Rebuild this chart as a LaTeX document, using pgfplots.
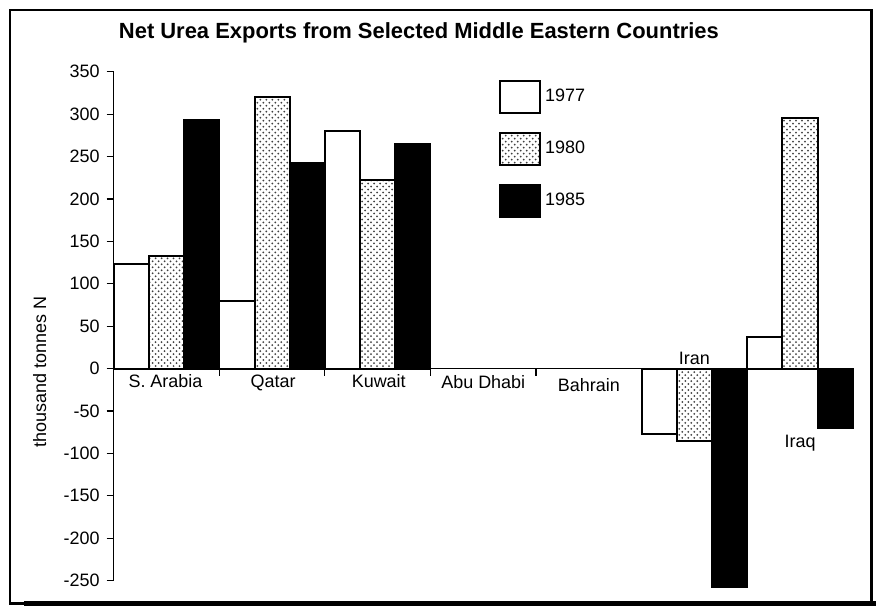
\documentclass[border=0pt]{standalone}
\usepackage{fontspec}
\setmainfont{Liberation Sans}
\usepackage{graphicx}
\usepackage{pgfplots}
\pgfplotsset{compat=1.18}
\usetikzlibrary{patterns}
\pgfplotsset{boxlegend/.style={legend image code/.code={\draw[##1] (0pt,-8pt) rectangle (20pt,8pt);}}}
\begin{document}
\begin{tikzpicture}
\begin{axis}[
  scale only axis, width=370.5pt, height=255pt,
  xmin=0, xmax=7, ymin=-250, ymax=350,
  axis x line=middle, axis y line=left,
  axis line style={-, line width=0.6pt},
  xtick={1,2,3,4,5,6}, xticklabels={},
  ytick={-250,-200,...,350},
  yticklabels={-250,-200,-150,-100,-50,0,50,100,150,200,250,300,350},
  tick align=outside, major tick length=3.5pt,
  tick style={black, line width=0.6pt},
  font=\fontsize{9}{10}\selectfont,
  ylabel={thousand tonnes N},
  every axis y label/.style={at={(axis description cs:-0.1,0.41)}, rotate=90, anchor=center, font=\fontsize{9}{10}\selectfont},
  legend style={at={(axis description cs:0.521,0.985)}, anchor=north west, draw=none, fill=none, row sep=9pt, font=\fontsize{9}{10}\selectfont, inner sep=0pt},
  legend cell align=left,
  clip=false,
]
\addplot[ybar, bar width=0.3333, bar shift=0pt, fill=white, draw=black, line width=1pt, boxlegend]
  coordinates {(0.1667,123) (1.1667,80) (2.1667,280) (5.1667,-77) (6.1667,37)};
\addlegendentry{1977}
\addplot[ybar, bar width=0.3333, bar shift=0pt, fill=white, pattern=crosshatch dots, pattern color=black!75, draw=black, line width=1pt, boxlegend]
  coordinates {(0.5,133) (1.5,320) (2.5,222) (5.5,-86) (6.5,295)};
\addlegendentry{1980}
\addplot[ybar, bar width=0.3333, bar shift=0pt, fill=black, draw=black, line width=1pt, boxlegend]
  coordinates {(0.8333,293) (1.8333,242) (2.8333,265) (5.8333,-258) (6.8333,-70)};
\addlegendentry{1985}
\node[font=\fontsize{9}{10}\selectfont, anchor=base] at (axis cs:0.49,-22) {S. Arabia};
\node[font=\fontsize{9}{10}\selectfont, anchor=base] at (axis cs:1.51,-22) {Qatar};
\node[font=\fontsize{9}{10}\selectfont, anchor=base] at (axis cs:2.51,-22) {Kuwait};
\node[font=\fontsize{9}{10}\selectfont, anchor=base] at (axis cs:3.5,-24) {Abu Dhabi};
\node[font=\fontsize{9}{10}\selectfont, anchor=base] at (axis cs:4.5,-27) {Bahrain};
\node[font=\fontsize{9}{10}\selectfont, anchor=base] at (axis cs:5.5,5) {Iran};
\node[font=\fontsize{9}{10}\selectfont, anchor=base] at (axis cs:6.5,-93) {Iraq};
\end{axis}
\begin{scope}[shift={(current axis.south west)}]
  \path (-57pt,-15.5pt) rectangle (382pt,291pt);
  \node[font=\fontsize{11}{13}\selectfont\bfseries, anchor=center] at (153pt,274.5pt) {Net Urea Exports from Selected Middle Eastern Countries};
  \draw[line width=1.2pt, line join=miter] (-52pt,-11.5pt) rectangle (380pt,286pt);
  \draw[line width=1.5pt] (380pt,286pt) -- (380pt,-11.5pt);
  \draw[line width=2.2pt] (-45pt,-11.5pt) -- (382pt,-11.5pt);
\end{scope}
\end{tikzpicture}
\end{document}
